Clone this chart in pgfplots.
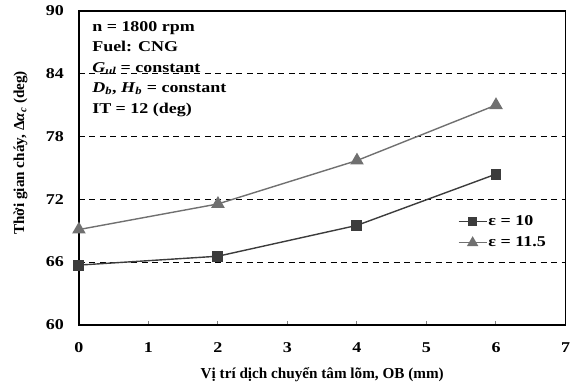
\documentclass[border=0pt]{standalone}
\usepackage{fontspec}
\setmainfont{Liberation Serif}
\newfontfamily\wide{Liberation Serif}[FakeStretch=1.2]
\usepackage{pgfplots}
\pgfplotsset{compat=1.18}
\definecolor{sA}{HTML}{3C3C3C}
\definecolor{sB}{HTML}{707070}
\begin{document}
\fontsize{15}{18}\selectfont
\begin{tikzpicture}
\begin{axis}[
  scale only axis,
  width=487pt, height=314pt,
  xmin=0, xmax=7, ymin=60, ymax=90,
  xtick={0,1,...,7}, ytick={60,66,...,90},
  xtick pos=bottom, ytick pos=left,
  tick align=inside,
  major tick length=4pt,
  ytick style={draw=none},
  xtick style={line width=1pt},
  /pgf/number format/assume math mode=true,
  tick label style={font=\fontsize{15}{18}\selectfont\wide\bfseries},
  yticklabel style={xshift=-10pt},
  xticklabel style={yshift=-13pt},
  ymajorgrids,
  grid style={dashed, black, line width=0.9pt, dash pattern=on 6pt off 4.5pt},
  axis line style={line width=1.6pt},
  xlabel={\bfseries Vị trí dịch chuyển tâm lõm, OB (mm)},
  ylabel={\bfseries Thời gian cháy, Δ\textit{α}\textsubscript{\textit{c}} (deg)},
  label style={font=\fontsize{15.2}{18}\selectfont},
  xlabel style={yshift=-4pt},
  ylabel style={yshift=8pt, xshift=15pt},
  legend style={draw=none, fill=none, at={(0.968,0.295)}, anchor=east,
    font=\fontsize{15}{18}\selectfont\wide\bfseries, row sep=7pt,
    nodes={inner sep=1pt}},
  legend cell align=left,
  legend image code/.code={%
    \draw[#1, line width=1.4pt] (0pt,0pt) -- (28pt,0pt);
    \draw[#1, line width=1.4pt, /tikz/every mark/.append style={scale=0.8}] plot coordinates {(14pt,0pt)};
  },
]
\addplot[color=sA, line width=1.4pt, mark=square*, mark size=4.8pt, mark options={fill=sA, solid}]
  coordinates {(0,65.7) (2,66.55) (4,69.5) (6,74.4)};
\addlegendentry{ε = 10}
\addplot[color=sB, line width=1.4pt, mark=triangle*, mark size=6.5pt, mark options={fill=sB, solid}]
  coordinates {(0,69.1) (2,71.55) (4,75.7) (6,81.0)};
\addlegendentry{ε = 11.5}
\node[anchor=north west, align=left, font=\fontsize{15}{20.5}\selectfont\wide\bfseries, inner sep=0pt]
  at (rel axis cs:0.027,0.968) {n = 1800 rpm\\Fuel: CNG\\\textit{G}\textsubscript{\textit{ul}} = constant\\\textit{D}\textsubscript{\textit{b}}, \textit{H}\textsubscript{\textit{b}} = constant\\IT = 12 (deg)};
\end{axis}
\useasboundingbox (current axis.south west) ++(-79pt,-65pt) rectangle ([xshift=9pt,yshift=11pt]current axis.north east);
\end{tikzpicture}
\end{document}
